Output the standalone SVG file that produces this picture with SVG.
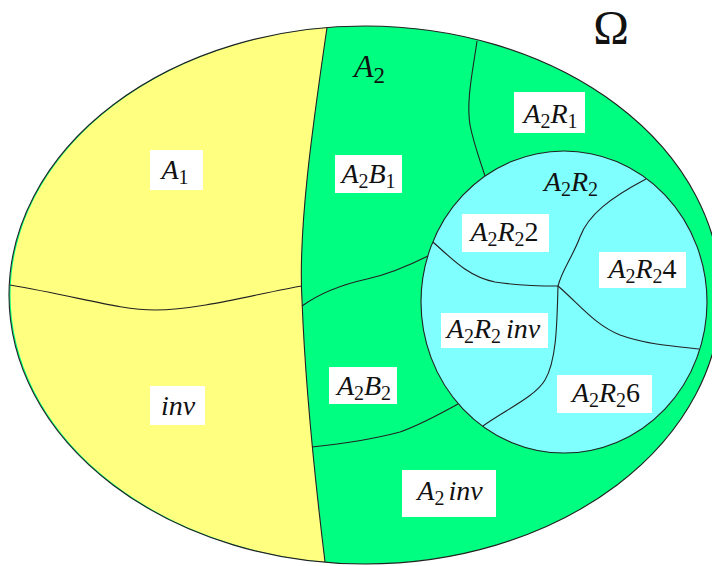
<svg xmlns="http://www.w3.org/2000/svg" width="712" height="566" viewBox="0 0 712 566">
<style>
.ln{fill:none;stroke:#222;stroke-width:1.1}
.box{fill:#fff}
.t{font-family:"Liberation Serif","Times New Roman",serif;font-size:28px;fill:#111;text-anchor:middle}
.i{font-style:italic}
.s{font-size:20px;font-style:normal}
</style>
<rect width="712" height="566" fill="#fff"/>
<g id="omega-set">
  <ellipse cx="365" cy="295" rx="356" ry="269" fill="#00ff80"/>
</g>
<g id="region-A1-inv">
  <path d="M327,27.5 C312,130 298,230 302,300 C305,380 315,480 325,562 A356,269 0 0 1 327,27.5 Z" fill="#ffff80"/>
</g>
<g id="region-A2R2">
  <ellipse cx="564" cy="302" rx="143" ry="151" fill="#80ffff" stroke="#222" stroke-width="1.1"/>
</g>
<g id="connectors">
  <ellipse class="ln" cx="365" cy="295" rx="356" ry="269"/>
  <path class="ln" d="M327,27.5 C312,130 298,230 302,300 C305,380 315,480 325,562"/>
  <path class="ln" d="M10,285 C80,297 120,310 155,310 C200,310 260,293 302,286"/>
  <path class="ln" d="M477,41 C473,70 466,100 470,125 C474,145 480,160 485,176"/>
  <path class="ln" d="M302,306 C320,293 340,285 367,279 C390,274 410,265 428,256"/>
  <path class="ln" d="M312,447 C340,444 370,440 400,432 C420,425 440,414 458,404"/>
  <path class="ln" d="M646,179 C610,198 588,215 580,237 C572,258 562,270 558,286"/>
  <path class="ln" d="M433,242 C455,262 470,277 495,282 C520,286 540,286 558,286"/>
  <path class="ln" d="M558,286 C557,320 557,360 545,380 C535,397 505,410 483,426"/>
  <path class="ln" d="M558,286 C580,305 595,325 620,335 C645,344 670,346 699,349"/>
</g>
<g id="label-omega">
  <text x="611" y="44" font-family="Liberation Serif,serif" font-size="48" text-anchor="middle" fill="#111">Ω</text>
</g>
<g id="label-A2">
  <text class="t" x="369.5" y="77" style="font-size:32px"><tspan class="i">A</tspan><tspan class="s" style="font-size:23px" dy="6">2</tspan></text>
</g>
<g id="node-A1">
  <rect class="box" x="150" y="150" width="53" height="40"/>
  <text class="t" x="175" y="179"><tspan class="i">A</tspan><tspan class="s" dy="5">1</tspan></text>
</g>
<g id="node-inv">
  <rect class="box" x="150" y="386" width="55" height="39"/>
  <text class="t i" x="178" y="415">inv</text>
</g>
<g id="node-A2B1">
  <rect class="box" x="335" y="155" width="67" height="38"/>
  <text class="t" x="368.5" y="183"><tspan class="i">A</tspan><tspan class="s" dy="5">2</tspan><tspan class="i" dy="-5">B</tspan><tspan class="s" dy="5">1</tspan></text>
</g>
<g id="node-A2B2">
  <rect class="box" x="329" y="367" width="68" height="37"/>
  <text class="t" x="364" y="395"><tspan class="i">A</tspan><tspan class="s" dy="5">2</tspan><tspan class="i" dy="-5">B</tspan><tspan class="s" dy="5">2</tspan></text>
</g>
<g id="node-A2R1">
  <rect class="box" x="514" y="92" width="71" height="41"/>
  <text class="t" x="550.5" y="123"><tspan class="i">A</tspan><tspan class="s" dy="5">2</tspan><tspan class="i" dy="-5">R</tspan><tspan class="s" dy="5">1</tspan></text>
</g>
<g id="label-A2R2">
  <text class="t" x="571" y="191"><tspan class="i">A</tspan><tspan class="s" dy="5">2</tspan><tspan class="i" dy="-5">R</tspan><tspan class="s" dy="5">2</tspan></text>
</g>
<g id="node-A2R2-2">
  <rect class="box" x="462" y="214" width="87" height="38"/>
  <text class="t" x="504.5" y="241"><tspan class="i">A</tspan><tspan class="s" dy="5">2</tspan><tspan class="i" dy="-5">R</tspan><tspan class="s" dy="5">2</tspan><tspan dy="-5">2</tspan></text>
</g>
<g id="node-A2R2-4">
  <rect class="box" x="599" y="252" width="87" height="36"/>
  <text class="t" x="642.5" y="278"><tspan class="i">A</tspan><tspan class="s" dy="5">2</tspan><tspan class="i" dy="-5">R</tspan><tspan class="s" dy="5">2</tspan><tspan dy="-5">4</tspan></text>
</g>
<g id="node-A2R2-inv">
  <rect class="box" x="441" y="313" width="107" height="35"/>
  <text class="t" x="493.5" y="338"><tspan class="i">A</tspan><tspan class="s" dy="5">2</tspan><tspan class="i" dy="-5">R</tspan><tspan class="s" dy="5">2</tspan><tspan class="i" dy="-5" dx="5">inv</tspan></text>
</g>
<g id="node-A2R2-6">
  <rect class="box" x="557" y="375" width="95" height="38"/>
  <text class="t" x="606" y="402"><tspan class="i">A</tspan><tspan class="s" dy="5">2</tspan><tspan class="i" dy="-5">R</tspan><tspan class="s" dy="5">2</tspan><tspan dy="-5">6</tspan></text>
</g>
<g id="node-A2inv">
  <rect class="box" x="402" y="470" width="94" height="47"/>
  <text class="t" x="450" y="500"><tspan class="i">A</tspan><tspan class="s" dy="5">2</tspan><tspan class="i" dy="-5" dx="4">inv</tspan></text>
</g>
</svg>
